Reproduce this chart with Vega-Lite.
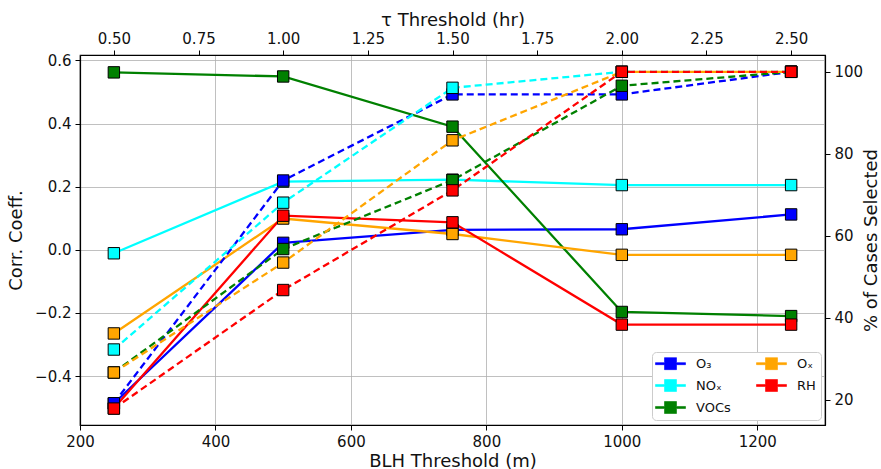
{
  "$schema": "https://vega.github.io/schema/vega-lite/v6.json",
  "width": 745,
  "height": 370,
  "autosize": {"type": "none"},
  "padding": {"left": 80, "top": 55, "right": 56, "bottom": 44},
  "background": "white",
  "config": {
    "font": "DejaVu Sans",
    "view": {"stroke": "black", "strokeWidth": 1.2},
    "axis": {
      "domainColor": "black",
      "domainWidth": 1.2,
      "tickColor": "black",
      "tickSize": 5,
      "tickWidth": 1,
      "labelFontSize": 15,
      "labelColor": "#111",
      "labelFlush": false,
      "labelOverlap": false,
      "titleFontSize": 18,
      "titleFontWeight": "normal",
      "titleColor": "#111",
      "gridColor": "#b0b0b0",
      "gridWidth": 0.8,
      "labelPadding": 4
    }
  },
  "data": {
    "values": [
      {"var": "O₃", "blh": 250, "tau": 0.5, "corr": -0.487, "pct": 19.2},
      {"var": "O₃", "blh": 500, "tau": 1.0, "corr": 0.022, "pct": 73.5},
      {"var": "O₃", "blh": 750, "tau": 1.5, "corr": 0.063, "pct": 94.5},
      {"var": "O₃", "blh": 1000, "tau": 2.0, "corr": 0.065, "pct": 94.5},
      {"var": "O₃", "blh": 1250, "tau": 2.5, "corr": 0.112, "pct": 100},
      {"var": "NOₓ", "blh": 250, "tau": 0.5, "corr": -0.011, "pct": 32.3},
      {"var": "NOₓ", "blh": 500, "tau": 1.0, "corr": 0.216, "pct": 68.1},
      {"var": "NOₓ", "blh": 750, "tau": 1.5, "corr": 0.222, "pct": 96.1},
      {"var": "NOₓ", "blh": 1000, "tau": 2.0, "corr": 0.205, "pct": 100},
      {"var": "NOₓ", "blh": 1250, "tau": 2.5, "corr": 0.205, "pct": 100},
      {"var": "VOCs", "blh": 250, "tau": 0.5, "corr": 0.562, "pct": 26.7},
      {"var": "VOCs", "blh": 500, "tau": 1.0, "corr": 0.549, "pct": 56.8},
      {"var": "VOCs", "blh": 750, "tau": 1.5, "corr": 0.39, "pct": 73.6},
      {"var": "VOCs", "blh": 1000, "tau": 2.0, "corr": -0.197, "pct": 96.6},
      {"var": "VOCs", "blh": 1250, "tau": 2.5, "corr": -0.21, "pct": 100},
      {"var": "Oₓ", "blh": 250, "tau": 0.5, "corr": -0.265, "pct": 26.7},
      {"var": "Oₓ", "blh": 500, "tau": 1.0, "corr": 0.099, "pct": 53.5},
      {"var": "Oₓ", "blh": 750, "tau": 1.5, "corr": 0.05, "pct": 83.3},
      {"var": "Oₓ", "blh": 1000, "tau": 2.0, "corr": -0.016, "pct": 100},
      {"var": "Oₓ", "blh": 1250, "tau": 2.5, "corr": -0.016, "pct": 100},
      {"var": "RH", "blh": 250, "tau": 0.5, "corr": -0.502, "pct": 17.9},
      {"var": "RH", "blh": 500, "tau": 1.0, "corr": 0.108, "pct": 46.8},
      {"var": "RH", "blh": 750, "tau": 1.5, "corr": 0.087, "pct": 71.1},
      {"var": "RH", "blh": 1000, "tau": 2.0, "corr": -0.237, "pct": 100},
      {"var": "RH", "blh": 1250, "tau": 2.5, "corr": -0.237, "pct": 100}
    ]
  },
  "layer": [
    {
      "encoding": {
        "x": {
          "field": "blh", "type": "quantitative",
          "scale": {"domain": [200, 1300], "nice": false, "zero": false},
          "axis": {"orient": "bottom", "title": "BLH Threshold (m)", "values": [200, 400, 600, 800, 1000, 1200], "format": "d", "grid": true, "titlePadding": 3}
        },
        "y": {
          "field": "corr", "type": "quantitative",
          "scale": {"domain": [-0.555, 0.617], "nice": false, "zero": false},
          "axis": {"orient": "left", "title": "Corr. Coeff.", "values": [-0.4, -0.2, 0, 0.2, 0.4, 0.6], "format": ".1f", "grid": true, "titlePadding": 9}
        },
        "color": {
          "field": "var", "type": "nominal",
          "scale": {"domain": ["O₃", "NOₓ", "VOCs", "Oₓ", "RH"], "range": ["#0000ff", "#00ffff", "#008000", "#ffa500", "#ff0000"]},
          "legend": {
            "title": null, "orient": "none", "legendX": 572, "legendY": 297, "columns": 2,
            "fillColor": "white", "strokeColor": "#cccccc", "cornerRadius": 4, "padding": 5,
            "labelFontSize": 13, "labelColor": "#111", "labelOffset": 19, "symbolOffset": 7,
            "symbolType": "M-2.5,-0.17H-1V-1H1V-0.17H2.5V0.17H1V1H-1V0.17H-2.5Z",
            "symbolSize": 144, "symbolStrokeColor": "black", "symbolStrokeWidth": 0.6,
            "rowPadding": 7, "columnPadding": 24
          }
        }
      },
      "layer": [
        {"mark": {"type": "line", "strokeWidth": 2.3}},
        {"mark": {"type": "point", "shape": "square", "filled": true, "size": 130, "stroke": "black", "strokeWidth": 1, "opacity": 1}}
      ]
    },
    {
      "encoding": {
        "x": {
          "field": "tau", "type": "quantitative",
          "scale": {"domain": [0.4, 2.6], "nice": false, "zero": false},
          "axis": {"orient": "top", "title": "τ Threshold (hr)", "values": [0.5, 0.75, 1.0, 1.25, 1.5, 1.75, 2.0, 2.25, 2.5], "format": ".2f", "grid": false, "titlePadding": 2}
        },
        "y": {
          "field": "pct", "type": "quantitative",
          "scale": {"domain": [13.9, 104.1], "nice": false, "zero": false},
          "axis": {"orient": "right", "title": "% of Cases Selected", "titleAngle": 270, "titleBaseline": "bottom", "values": [20, 40, 60, 80, 100], "format": "d", "grid": false, "titlePadding": 18}
        },
        "color": {"field": "var", "type": "nominal"}
      },
      "layer": [
        {"mark": {"type": "line", "strokeWidth": 2.3, "strokeDash": [7, 4]}},
        {"mark": {"type": "point", "shape": "square", "filled": true, "size": 130, "stroke": "black", "strokeWidth": 1, "opacity": 1}}
      ]
    }
  ],
  "resolve": {"scale": {"x": "independent", "y": "independent"}}
}
